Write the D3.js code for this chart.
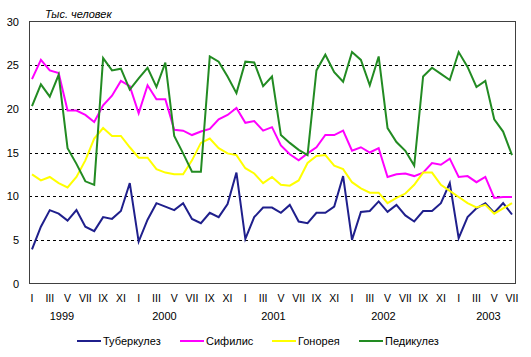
<!DOCTYPE html>
<html><head><meta charset="utf-8">
<script src="https://cdn.jsdelivr.net/npm/d3@7"></script>
<style>body{margin:0;background:#fff}text{font-family:"Liberation Sans",Arial,sans-serif}</style>
</head><body><svg id="c" width="531" height="357"></svg>
<script>
const months = ["I","II","III","IV","V","VI","VII","VIII","IX","X","XI","XII"];
const years = ["1999","2000","2001","2002","2003"];
const yTicks = [0,5,10,15,20,25,30];
const seriesNames = ["Туберкулез","Сифилис","Гонорея","Педикулез"];
const tuberculosis = [3.9,6.5,8.4,8.0,7.2,8.4,6.5,6.0,7.6,7.4,8.3,11.5,
 4.8,7.3,9.2,8.8,8.4,9.2,7.4,6.9,8.1,7.6,9.1,12.7,
 5.1,7.6,8.7,8.7,8.1,9.0,7.1,6.9,8.1,8.1,8.8,12.3,
 5.0,8.2,8.3,9.4,8.2,9.0,7.8,7.1,8.3,8.3,9.2,11.5,
 5.2,7.6,8.6,9.2,8.1,9.2,7.9];
const syphilis = [23.4,25.6,24.4,24.1,19.8,19.8,19.3,18.5,20.4,21.5,23.2,22.6,
 19.5,22.7,21.1,21.1,17.6,17.5,17.0,17.4,17.7,18.8,19.3,20.1,
 18.4,18.6,17.5,17.9,15.8,14.8,14.1,14.9,15.6,17.0,17.0,17.5,
 15.2,15.6,15.0,15.5,12.2,12.5,12.6,12.3,12.7,13.8,13.6,14.3,
 12.2,12.3,11.6,12.2,9.8,9.9,9.9];
const gonorrhea = [12.5,11.8,12.2,11.5,11.0,12.2,14.1,16.6,17.8,16.9,16.9,15.6,
 14.4,14.4,13.1,12.7,12.5,12.5,14.1,16.1,16.6,15.5,14.9,14.7,
 13.2,12.6,11.5,12.2,11.3,11.2,11.8,13.8,14.6,14.7,13.5,13.1,
 11.6,10.9,10.4,10.4,9.2,9.8,10.3,11.3,12.7,12.7,11.3,10.6,
 9.9,9.2,8.7,9.0,8.0,8.6,9.2];
const pediculosis = [20.3,22.8,21.4,23.9,15.5,13.7,11.7,11.3,25.8,24.4,24.6,22.2,
 23.5,24.7,22.5,25.3,16.9,14.9,12.8,12.8,26.0,25.4,23.7,21.8,
 25.4,25.3,22.6,23.7,17.0,16.1,15.3,14.7,24.4,26.2,24.2,23.1,
 26.5,25.6,22.7,26.0,17.8,16.2,15.2,13.5,23.7,24.7,24.0,23.3,
 26.5,24.8,22.5,23.2,18.8,17.4,14.7];
const colors = ["#1f1f8c","#ff00ff","#ffff00","#228b22"];

const svg = d3.select("#c");
const L=29,R=516,T=21.5,B=283.5;
const n = tuberculosis.length;
const x = d3.scalePoint().domain(d3.range(n)).range([32,512]);
const y = d3.scaleLinear().domain([0,30]).range([B,T]);

// gridlines
svg.append("g").selectAll("line").data(yTicks.filter(v=>v>0&&v<30)).join("line")
 .attr("x1",L).attr("x2",R).attr("y1",d=>Math.round(y(d))+0.5).attr("y2",d=>Math.round(y(d))+0.5)
 .attr("stroke","#000").attr("stroke-dasharray","3,3").attr("stroke-width",1);

// y labels
svg.append("g").selectAll("text").data(yTicks).join("text")
 .attr("x",19).attr("y",d=>y(d)+4).attr("text-anchor","end").attr("font-size",11).text(d=>d);

// frame
svg.append("rect").attr("x",L+0.5).attr("y",T).attr("width",R-L-1).attr("height",B-T)
 .attr("fill","none").attr("stroke","#404040").attr("stroke-width",1);

// month labels
svg.append("g").selectAll("text").data(d3.range(n).filter(i=>i%2===0)).join("text")
 .attr("x",i=>x(i)).attr("y",302).attr("text-anchor","middle").attr("font-size",10.5)
 .text(i=>months[i%12]);

// year labels
const yearX=[62,164.5,273.5,383.5,488.5];
svg.append("g").selectAll("text").data(years).join("text")
 .attr("x",(d,i)=>yearX[i]).attr("y",320).attr("text-anchor","middle").attr("font-size",11).text(d=>d);

// title
svg.append("text").attr("x",45).attr("y",18).attr("font-size",11).attr("font-style","italic").text("Тыс. человек");

// lines
const data=[tuberculosis,syphilis,gonorrhea,pediculosis];
const line=d3.line().x((d,i)=>x(i)).y(d=>y(d));
svg.append("g").selectAll("path").data(data).join("path")
 .attr("d",line).attr("fill","none").attr("stroke",(d,i)=>colors[i]).attr("stroke-width",2)
 .attr("stroke-linejoin","miter");

// legend
const legX=[77,180,272,359];
const lg=svg.append("g").selectAll("g").data(seriesNames).join("g")
 .attr("transform",(d,i)=>`translate(${legX[i]},341)`);
lg.append("line").attr("x1",0).attr("x2",24).attr("stroke",(d,i)=>colors[i]).attr("stroke-width",2);
lg.append("text").attr("x",26).attr("y",4).attr("font-size",11).text(d=>d);
</script></body></html>
